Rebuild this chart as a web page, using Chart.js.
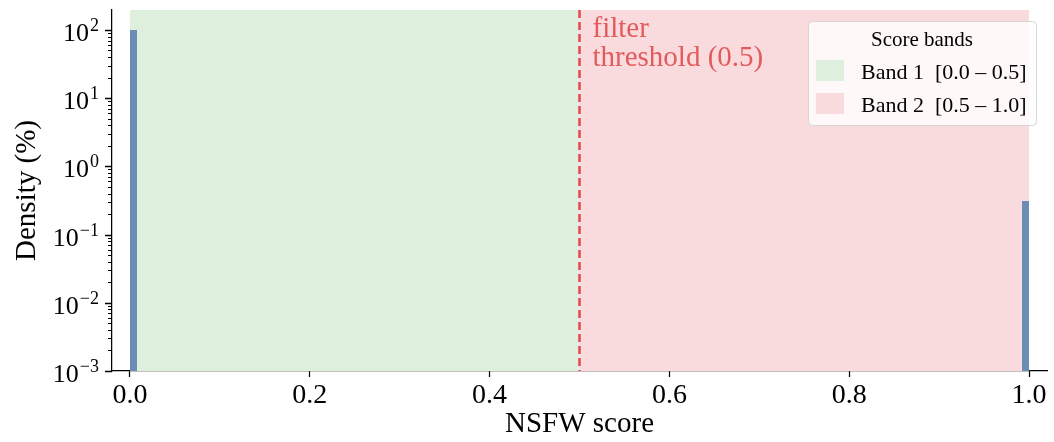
<!DOCTYPE html>
<html>
<head>
<meta charset="utf-8">
<script src="https://cdn.jsdelivr.net/npm/chart.js@4.4.0/dist/chart.umd.min.js"></script>
<style>
  html, body { margin: 0; padding: 0; background: #fff; }
  #wrap { width: 1054px; height: 442px; }
</style>
</head>
<body>
<div id="wrap"><canvas id="chart" width="1054" height="442"></canvas></div>
<script>
// histogram bins (left edge) and density in %
const binLeft = [0.0, 0.9922];
const binWidth = 0.0078;
const density = [99.69, 0.31];

// score bands
const bandLabels = ['Band 1  [0.0 \u2013 0.5]', 'Band 2  [0.5 \u2013 1.0]'];
const bandStart = [0.0, 0.5];
const bandEnd = [0.5, 1.0];
const bandColors = ['#dfefdd', '#f9dbdd'];

const threshold = 0.5;
const xTicks = [0.0, 0.2, 0.4, 0.6, 0.8, 1.0];
const yExponents = [-3, -2, -1, 0, 1, 2];

const SERIF = '"Liberation Serif", "Times New Roman", serif';

const bandsPlugin = {
  id: 'bands',
  beforeDatasetsDraw(chart) {
    const { ctx, chartArea: a, scales: { x } } = chart;
    ctx.save();
    bandStart.forEach((s, i) => {
      const x0 = x.getPixelForValue(s);
      const x1 = x.getPixelForValue(bandEnd[i]);
      ctx.fillStyle = bandColors[i];
      ctx.fillRect(x0, a.top, x1 - x0, a.bottom - a.top);
    });
    ctx.restore();
  },
  afterDatasetsDraw(chart) {
    const { ctx, chartArea: a, scales: { x } } = chart;
    const tx = x.getPixelForValue(threshold);
    ctx.save();
    ctx.strokeStyle = '#e8474c';
    ctx.lineWidth = 2.5;
    ctx.setLineDash([8, 4]);
    ctx.beginPath();
    ctx.moveTo(tx, a.top);
    ctx.lineTo(tx, a.bottom);
    ctx.stroke();
    ctx.setLineDash([]);
    ctx.fillStyle = '#e25a5c';
    ctx.font = '29px ' + SERIF;
    ctx.textBaseline = 'alphabetic';
    ctx.fillText('filter', tx + 13, 37);
    ctx.fillText('threshold (0.5)', tx + 13, 66);
    ctx.restore();
  },
  afterDraw(chart) {
    const { ctx, chartArea: a, scales: { y } } = chart;
    const left = Math.round(a.left);
    ctx.save();
    // y ticks (major + minor) and labels 10^n
    ctx.strokeStyle = '#000';
    yExponents.forEach((e, k) => {
      const py = y.getPixelForValue(Math.pow(10, e));
      const pyr = Math.round(py) + 0.5;
      ctx.lineWidth = 1.5;
      ctx.beginPath();
      ctx.moveTo(left - 7, pyr);
      ctx.lineTo(left, pyr);
      ctx.stroke();
      if (k < yExponents.length - 1) {
        ctx.lineWidth = 1;
        for (let m = 2; m <= 9; m++) {
          const pm = Math.round(y.getPixelForValue(m * Math.pow(10, e))) + 0.5;
          ctx.beginPath();
          ctx.moveTo(left - 4, pm);
          ctx.lineTo(left, pm);
          ctx.stroke();
        }
      }
      const exp = e < 0 ? '\u2212' + (-e) : String(e);
      ctx.fillStyle = '#000';
      ctx.textAlign = 'right';
      ctx.textBaseline = 'alphabetic';
      ctx.font = '18px ' + SERIF;
      const ew = ctx.measureText(exp).width;
      ctx.fillText(exp, left - 13, py + 1);
      ctx.font = '26px ' + SERIF;
      ctx.fillText('10', left - 14 - ew, py + 11);
    });

    // legend box
    const lx = 808, ly = 21, lw = 228, lh = 104;
    ctx.fillStyle = 'rgba(255,255,255,0.8)';
    ctx.strokeStyle = '#d6d6d6';
    ctx.lineWidth = 1;
    ctx.beginPath();
    ctx.roundRect(lx + 0.5, ly + 0.5, lw, lh, 4);
    ctx.fill();
    ctx.stroke();
    ctx.fillStyle = '#000';
    ctx.textAlign = 'center';
    ctx.font = '21px ' + SERIF;
    ctx.fillText('Score bands', lx + lw / 2, ly + 25);
    ctx.textAlign = 'left';
    ctx.font = '22px ' + SERIF;
    bandLabels.forEach((lab, i) => {
      const rowY = ly + 39 + i * 33;
      ctx.fillStyle = bandColors[i];
      ctx.fillRect(lx + 8, rowY, 28, 21);
      ctx.fillStyle = '#000';
      ctx.fillText(lab, lx + 53, rowY + 19);
    });
    ctx.restore();
  }
};

const barSets = binLeft.map((x0, i) => ({
  type: 'line',
  data: [{ x: x0, y: density[i] }, { x: x0 + binWidth, y: density[i] }],
  borderWidth: 0,
  pointRadius: 0,
  backgroundColor: '#6a8cb5',
  borderColor: '#6a8cb5',
  fill: 'start'
}));

window.onload = () => {
  const ctx = document.getElementById('chart').getContext('2d');
  new Chart(ctx, {
    type: 'line',
    data: { datasets: barSets },
    plugins: [bandsPlugin],
    options: {
      responsive: false,
      animation: false,
      layout: { padding: { top: 10, right: 7, left: 0, bottom: 0 } },
      plugins: { legend: { display: false }, tooltip: { enabled: false } },
      scales: {
        x: {
          type: 'linear',
          min: -0.02,
          max: 1.02,
          afterBuildTicks: (s) => { s.ticks = xTicks.map(v => ({ value: v })); },
          afterFit: (s) => { s.height = 71; },
          grid: { drawOnChartArea: false, tickLength: 6, tickColor: '#000', tickWidth: 1.25 },
          border: { color: '#000', width: 1.25 },
          ticks: {
            color: '#000',
            padding: 2,
            maxRotation: 0,
            font: { family: SERIF, size: 28 },
            callback: v => v.toFixed(1)
          },
          title: {
            display: true,
            text: 'NSFW score',
            color: '#000',
            font: { family: SERIF, size: 29 },
            padding: { top: 0, bottom: 0 }
          }
        },
        y: {
          type: 'logarithmic',
          min: 0.001,
          max: 196,
          afterFit: (s) => { s.width = 112; },
          grid: { display: false },
          border: { color: '#000', width: 1.25 },
          ticks: { display: false },
          title: {
            display: true,
            text: 'Density (%)',
            color: '#000',
            font: { family: SERIF, size: 29 },
            padding: { top: 10, bottom: 0 }
          }
        }
      }
    }
  });
};
</script>
</body>
</html>
